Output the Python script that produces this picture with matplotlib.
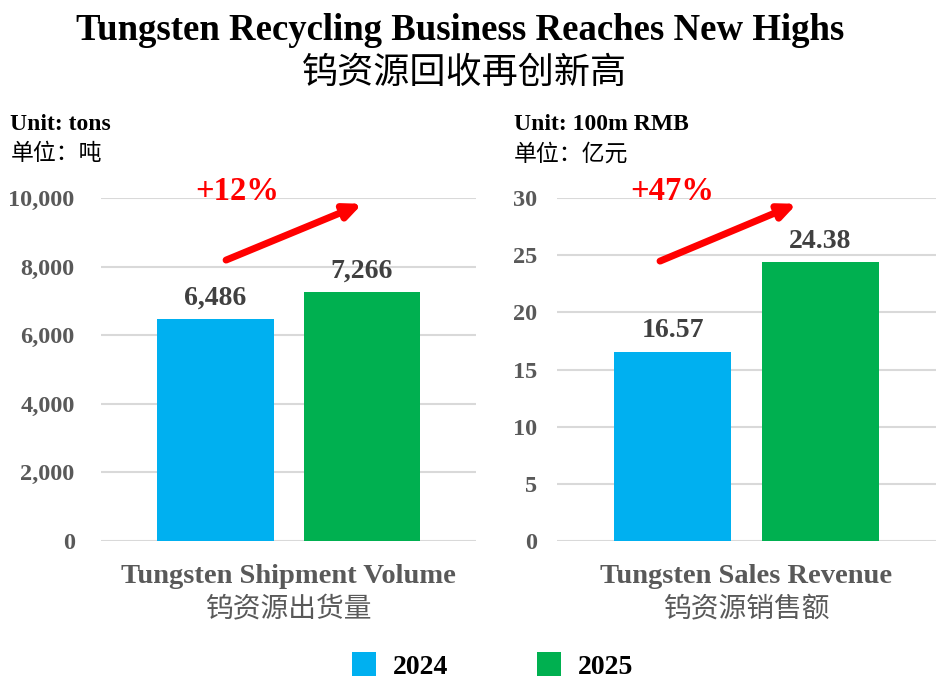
import matplotlib
matplotlib.use("Agg")
import matplotlib.pyplot as plt
from matplotlib.patches import Patch

# data
years = ["2024", "2025"]
volume = [6486, 7266]          # tons
revenue = [16.57, 24.38]       # 100m RMB
volume_labels = ["6,486", "7,266"]
revenue_labels = ["16.57", "24.38"]
volume_ticks = [0, 2000, 4000, 6000, 8000, 10000]
revenue_ticks = [0, 5, 10, 15, 20, 25, 30]
growth = ["+12%", "+47%"]

colors = ["#00B0F0", "#00B050"]
grid_c = "#D9D9D9"
serif = ["Liberation Serif", "Noto Sans CJK SC"]
cjk = ["Noto Sans CJK SC", "DejaVu Sans"]

fig = plt.figure(figsize=(9.36, 6.78), dpi=100)

fig.text(0.492, 0.955, "Tungsten Recycling Business Reaches New Highs",
         ha="center", va="center", fontsize=26.5, fontweight="bold", family=serif)
fig.text(0.496, 0.892, "钨资源回收再创新高", ha="center", va="center",
         fontsize=26, family=cjk, fontweight="medium")

ax1 = fig.add_axes([0.108, 0.202, 0.401, 0.506])
ax2 = fig.add_axes([0.595, 0.202, 0.405, 0.506])

panels = [
    (ax1, volume, volume_labels, volume_ticks, 10000, "{:,.0f}",
     "Unit: tons", "单位：吨", "Tungsten Shipment Volume", "钨资源出货量", growth[0], 19),
    (ax2, revenue, revenue_labels, revenue_ticks, 30, "{:.0f}",
     "Unit: 100m RMB", "单位：亿元", "Tungsten Sales Revenue", "钨资源销售额", growth[1], 14),
]

offsets = [-0.39, 0.39]
arrow_pos = [((0.333, 0.819), (0.696, 0.983)), ((0.272, 0.816), (0.633, 0.983))]
pct_x = [0.363, 0.303]

for i, (ax, vals, labs, ticks, top, fmt, unit_en, unit_cn, cat_en, cat_cn, pct, pad) in enumerate(panels):
    bars = ax.bar(offsets, vals, width=0.62, color=colors, zorder=3)
    for b, lab in zip(bars, labs):
        ax.annotate(lab, (b.get_x() + b.get_width() / 2, b.get_height()),
                    xytext=(0, 6), textcoords="offset points", ha="center", va="bottom",
                    fontsize=20, fontweight="bold", color="#404040", family=serif)
    ax.set_xlim(-1, 1)
    ax.set_ylim(0, top)
    ax.set_yticks(ticks)
    ax.set_yticklabels([fmt.format(t) for t in ticks], fontsize=17.5, fontweight="bold",
                       color="#595959", family=serif)
    ax.tick_params(axis="y", length=0, pad=pad)
    ax.set_xticks([])
    for s in ax.spines.values():
        s.set_visible(False)
    ax.yaxis.grid(True, color=grid_c, linewidth=1.5, zorder=0)
    ax.set_axisbelow(True)

    # unit label
    x0 = 0.011 if i == 0 else 0.549
    fig.text(x0, 0.816, unit_en, ha="left", va="center", fontsize=17,
             fontweight="bold", color="black", family=serif)
    fig.text(x0, 0.773, unit_cn, ha="left", va="center", fontsize=16.5,
             color="black", family=cjk)

    # category label
    ax.text(0.5, -0.103, cat_en, transform=ax.transAxes, ha="center", va="center",
            fontsize=20.5, fontweight="bold", color="#595959", family=serif)
    ax.text(0.5, -0.2, cat_cn, transform=ax.transAxes, ha="center", va="center",
            fontsize=20, color="#595959", family=cjk)

    # growth arrow
    (sx, sy), (ex, ey) = arrow_pos[i]
    ax.annotate("", xy=(ex, ey), xytext=(sx, sy), xycoords="axes fraction",
                textcoords="axes fraction", annotation_clip=False,
                arrowprops=dict(arrowstyle="-|>,head_length=1.0,head_width=0.45",
                                color="#FF0000", lw=5, shrinkA=0, shrinkB=0))
    ax.text(pct_x[i], 1.02, pct, transform=ax.transAxes, ha="center", va="center",
            fontsize=23.5, fontweight="bold", color="#FF0000", family=serif)

handles = [Patch(facecolor=c) for c in colors]
leg = fig.legend(handles, years, loc="center", bbox_to_anchor=(0.526, 0.018),
                 ncol=2, frameon=False, handlelength=0.87, handleheight=0.95,
                 columnspacing=3.2, handletextpad=0.6, borderpad=0,
                 prop=dict(family=serif, weight="bold", size=20))

fig.savefig("out.png", dpi=100)
